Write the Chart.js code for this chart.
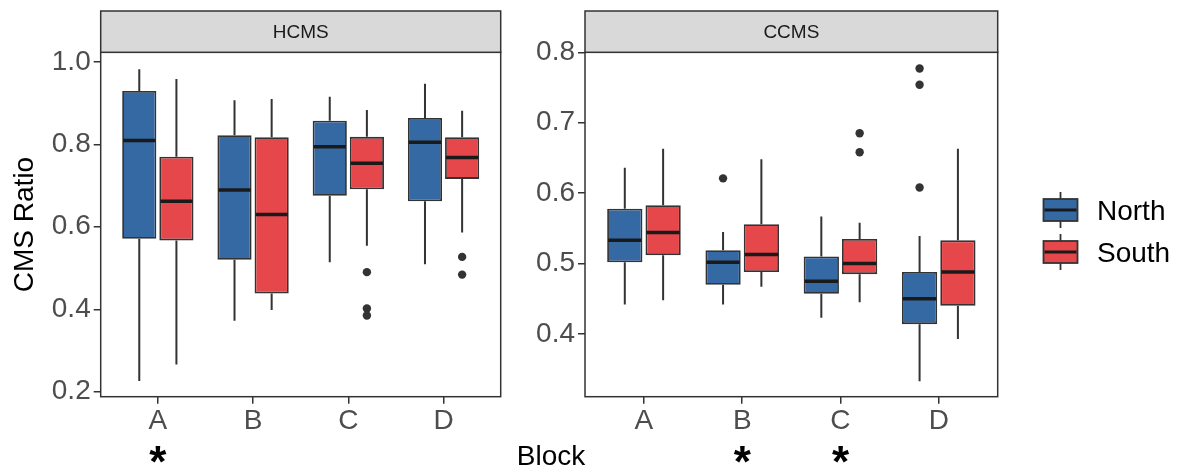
<!DOCTYPE html>
<html>
<head>
<meta charset="utf-8">
<script src="https://cdn.jsdelivr.net/npm/chart.js@4.4.1/dist/chart.umd.min.js"></script>
<style>
  body { margin: 0; background: #fff; }
  #wrap { position: relative; width: 1179px; height: 471px; }
  #wrap canvas { position: absolute; left: 0; top: 0; }
</style>
</head>
<body>
<div id="wrap">
  <canvas id="hcmsChart" width="1179" height="471"></canvas>
  <canvas id="ccmsChart" width="1179" height="471"></canvas>
</div>
<script>
const blocks = ['A', 'B', 'C', 'D'];
const groups = ['North', 'South'];

// HCMS panel
const hcmsNorthMin = [0.226, 0.372, 0.514, 0.509];
const hcmsNorthQ1  = [0.571, 0.520, 0.675, 0.662];
const hcmsNorthMed = [0.809, 0.689, 0.794, 0.805];
const hcmsNorthQ3  = [0.929, 0.822, 0.857, 0.864];
const hcmsNorthMax = [0.982, 0.907, 0.915, 0.947];
const hcmsNorthOut = [[], [], [], []];

const hcmsSouthMin = [0.266, 0.398, 0.554, 0.586];
const hcmsSouthQ1  = [0.567, 0.438, 0.691, 0.716];
const hcmsSouthMed = [0.662, 0.630, 0.754, 0.768];
const hcmsSouthQ3  = [0.770, 0.817, 0.818, 0.817];
const hcmsSouthMax = [0.958, 0.910, 0.883, 0.881];
const hcmsSouthOut = [[], [], [0.490, 0.402, 0.385], [0.527, 0.484]];

// CCMS panel
const ccmsNorthMin = [0.442, 0.442, 0.423, 0.333];
const ccmsNorthQ1  = [0.502, 0.470, 0.457, 0.414];
const ccmsNorthMed = [0.533, 0.502, 0.475, 0.450];
const ccmsNorthQ3  = [0.578, 0.519, 0.510, 0.488];
const ccmsNorthMax = [0.636, 0.545, 0.567, 0.539];
const ccmsNorthOut = [[], [0.621], [], [0.777, 0.754, 0.608]];

const ccmsSouthMin = [0.448, 0.467, 0.445, 0.393];
const ccmsSouthQ1  = [0.512, 0.488, 0.485, 0.440];
const ccmsSouthMed = [0.544, 0.513, 0.500, 0.488];
const ccmsSouthQ3  = [0.583, 0.556, 0.535, 0.533];
const ccmsSouthMax = [0.663, 0.648, 0.558, 0.663];
const ccmsSouthOut = [[], [], [0.685, 0.658], []];

const hcmsStars = ['*', '', '', ''];
const ccmsStars = ['', '*', '*', ''];
const hcmsTicks = [0.2, 0.4, 0.6, 0.8, 1.0];
const ccmsTicks = [0.4, 0.5, 0.6, 0.7, 0.8];

const FONT = "'Liberation Sans', Arial, sans-serif";
const northFill = '#3469a3';
const southFill = '#e5474b';
const ink = '#333333';

function boxDataset(label, fill, min, q1, med, q3, max, out) {
    return {
        label: label,
        data: blocks.map((b, i) => ({ x: i + 1, y: [q1[i], q3[i]] })),
        backgroundColor: fill,
        borderColor: ink,
        borderWidth: 1.8,
        borderSkipped: false,
        categoryPercentage: 0.78,
        barPercentage: 0.92,
        whiskerMin: min, median: med, whiskerMax: max, outliers: out
    };
}

// whiskers, medians, outliers, panel border, strip and stars
const boxPlot = {
    id: 'boxPlot',
    beforeDatasetsDraw(chart) {
        const ctx = chart.ctx, y = chart.scales.y;
        ctx.save();
        chart.data.datasets.forEach((ds, di) => {
            chart.getDatasetMeta(di).data.forEach((bar, i) => {
                const [q1, q3] = ds.data[i].y;
                ctx.strokeStyle = ink;
                ctx.lineWidth = 2;
                ctx.beginPath();
                ctx.moveTo(bar.x, y.getPixelForValue(q3));
                ctx.lineTo(bar.x, y.getPixelForValue(ds.whiskerMax[i]));
                ctx.moveTo(bar.x, y.getPixelForValue(q1));
                ctx.lineTo(bar.x, y.getPixelForValue(ds.whiskerMin[i]));
                ctx.stroke();
                ctx.fillStyle = ink;
                ds.outliers[i].forEach(v => {
                    ctx.beginPath();
                    ctx.arc(bar.x, y.getPixelForValue(v), 4.2, 0, Math.PI * 2);
                    ctx.fill();
                });
            });
        });
        ctx.restore();
    },
    afterDatasetsDraw(chart, args, opts) {
        const ctx = chart.ctx, y = chart.scales.y, x = chart.scales.x;
        const area = chart.chartArea;
        ctx.save();
        chart.data.datasets.forEach((ds, di) => {
            chart.getDatasetMeta(di).data.forEach((bar, i) => {
                const py = y.getPixelForValue(ds.median[i]);
                ctx.strokeStyle = '#1a1a1a';
                ctx.lineWidth = 3.5;
                ctx.beginPath();
                ctx.moveTo(bar.x - bar.width / 2 + 1, py);
                ctx.lineTo(bar.x + bar.width / 2 - 1, py);
                ctx.stroke();
            });
        });
        // panel border
        ctx.strokeStyle = ink;
        ctx.lineWidth = 1.5;
        ctx.strokeRect(area.left, area.top, area.right - area.left, area.bottom - area.top);
        // strip
        ctx.fillStyle = '#d9d9d9';
        ctx.fillRect(area.left, 11, area.right - area.left, area.top - 11);
        ctx.strokeRect(area.left, 11, area.right - area.left, area.top - 11);
        ctx.fillStyle = '#1a1a1a';
        ctx.font = '19px ' + FONT;
        ctx.textAlign = 'center';
        ctx.textBaseline = 'middle';
        ctx.fillText(opts.strip, (area.left + area.right) / 2, (11 + area.top) / 2 + 1);
        // significance stars
        ctx.fillStyle = '#000';
        ctx.font = 'bold 44px ' + FONT;
        ctx.textBaseline = 'alphabetic';
        opts.stars.forEach((s, i) => {
            if (s) ctx.fillText(s, x.getPixelForValue(i + 1), 477);
        });
        ctx.restore();
    }
};

// legend and shared x title, drawn on the right panel's canvas
const extras = {
    id: 'extras',
    afterDraw(chart) {
        const ctx = chart.ctx;
        ctx.save();
        ctx.fillStyle = '#000';
        ctx.font = '28px ' + FONT;
        ctx.textAlign = 'center';
        ctx.textBaseline = 'middle';
        ctx.fillText('Block', 551, 457);
        chart.data.datasets.forEach((ds, k) => {
            const cx = 1060.5, cy = 210 + k * 42;
            ctx.strokeStyle = ink;
            ctx.lineWidth = 1.8;
            ctx.beginPath();
            ctx.moveTo(cx, cy - 18); ctx.lineTo(cx, cy - 11);
            ctx.moveTo(cx, cy + 11); ctx.lineTo(cx, cy + 18);
            ctx.stroke();
            ctx.fillStyle = ds.backgroundColor;
            ctx.fillRect(cx - 17, cy - 11, 34, 22);
            ctx.strokeRect(cx - 17, cy - 11, 34, 22);
            ctx.lineWidth = 3;
            ctx.strokeStyle = '#1a1a1a';
            ctx.beginPath();
            ctx.moveTo(cx - 16, cy); ctx.lineTo(cx + 16, cy);
            ctx.stroke();
            ctx.fillStyle = '#000';
            ctx.textAlign = 'left';
            ctx.fillText(groups[k], 1097, cy + 2);
        });
        ctx.restore();
    }
};

function panelOptions(yMin, yMax, yTicks, yWidth, padLeft, padRight, withTitle, strip, stars) {
    return {
        responsive: false,
        animation: false,
        devicePixelRatio: 1,
        layout: { padding: { left: padLeft, right: padRight, top: 52.3, bottom: 0 } },
        plugins: {
            legend: { display: false },
            tooltip: { enabled: false },
            boxPlot: { strip: strip, stars: stars }
        },
        scales: {
            x: {
                type: 'linear', min: 0.4, max: 4.6, offset: false,
                afterBuildTicks: s => { s.ticks = blocks.map((b, i) => ({ value: i + 1 })); },
                afterFit: s => { s.height = 74.3; },
                ticks: {
                    callback: v => blocks[Math.round(v) - 1],
                    font: { family: FONT, size: 28 }, color: '#4d4d4d',
                    padding: 1, maxRotation: 0, autoSkip: false
                },
                grid: { drawOnChartArea: false, tickLength: 7, color: ink, lineWidth: 1.5, offset: false },
                border: { display: false }
            },
            y: {
                min: yMin, max: yMax,
                afterBuildTicks: s => { s.ticks = yTicks.map(v => ({ value: v })); },
                afterFit: s => { s.width = yWidth; },
                ticks: {
                    callback: v => v.toFixed(1),
                    font: { family: FONT, size: 28 }, color: '#4d4d4d',
                    padding: 3, autoSkip: false
                },
                grid: { drawOnChartArea: false, tickLength: 7, color: ink, lineWidth: 1.5 },
                border: { display: false },
                title: {
                    display: withTitle, text: 'CMS Ratio', color: '#000',
                    font: { family: FONT, size: 28 }, padding: { top: 8, bottom: 0 }
                }
            }
        }
    };
}

new Chart(document.getElementById('hcmsChart'), {
    type: 'bar',
    data: {
        datasets: [
            boxDataset('North', northFill, hcmsNorthMin, hcmsNorthQ1, hcmsNorthMed, hcmsNorthQ3, hcmsNorthMax, hcmsNorthOut),
            boxDataset('South', southFill, hcmsSouthMin, hcmsSouthQ1, hcmsSouthMed, hcmsSouthQ3, hcmsSouthMax, hcmsSouthOut)
        ]
    },
    options: panelOptions(0.188, 1.023, hcmsTicks, 100.7, 0, 678.3, true, 'HCMS', hcmsStars),
    plugins: [boxPlot]
});

new Chart(document.getElementById('ccmsChart'), {
    type: 'bar',
    data: {
        datasets: [
            boxDataset('North', northFill, ccmsNorthMin, ccmsNorthQ1, ccmsNorthMed, ccmsNorthQ3, ccmsNorthMax, ccmsNorthOut),
            boxDataset('South', southFill, ccmsSouthMin, ccmsSouthQ1, ccmsSouthMed, ccmsSouthQ3, ccmsSouthMax, ccmsSouthOut)
        ]
    },
    options: panelOptions(0.311, 0.800, ccmsTicks, 65, 520, 181.3, false, 'CCMS', ccmsStars),
    plugins: [boxPlot, extras]
});
</script>
</body>
</html>
